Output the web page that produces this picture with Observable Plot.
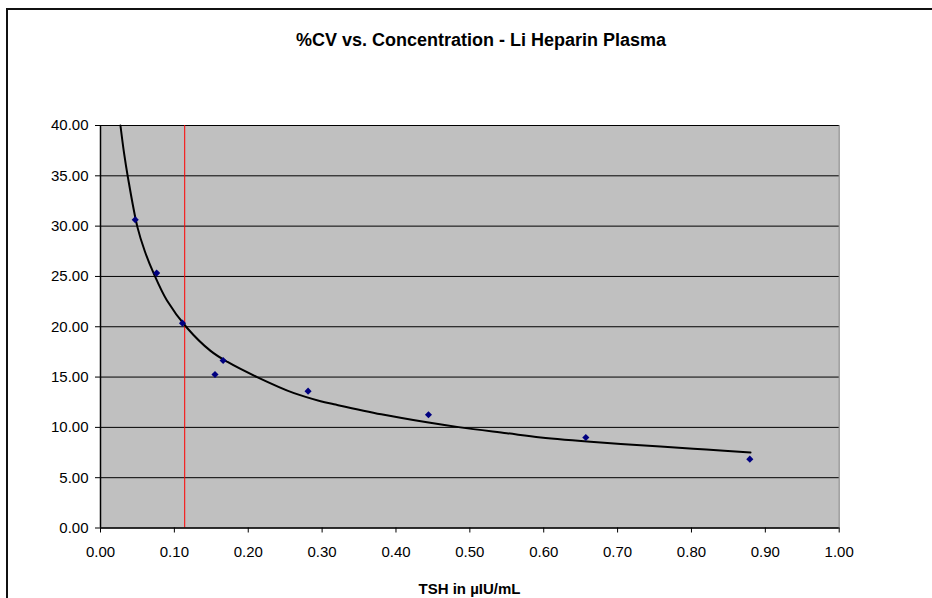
<!DOCTYPE html>
<html>
<head>
<meta charset="utf-8">
<script src="https://cdn.jsdelivr.net/npm/d3@7"></script>
<script src="https://cdn.jsdelivr.net/npm/@observablehq/plot@0.6"></script>
<style>
  html, body { margin: 0; padding: 0; background: #fff; width: 932px; height: 598px; overflow: hidden; position: relative; }
  body { font-family: Arial, "Liberation Sans", sans-serif; }
  #frame { position: absolute; left: 6px; top: 8px; width: 1000px; height: 700px; border-left: 2px solid #111; border-top: 2px solid #111; }
  #title { position: absolute; left: 0; width: 962px; top: 29px; text-align: center; font-weight: bold; font-size: 18px; line-height: 22px; color: #000; }
  #chart { position: absolute; left: 0; top: 80px; }
  #xlabel { position: absolute; left: 100px; width: 739px; top: 580px; text-align: center; font-weight: bold; font-size: 15px; line-height: 18px; color: #000; }
</style>
</head>
<body>
<div id="frame"></div>
<div id="title">%CV vs. Concentration - Li Heparin Plasma</div>
<div id="chart"></div>
<div id="xlabel">TSH in µIU/mL</div>
<script>
// Measured points (TSH concentration, %CV)
const pointX = [0.047, 0.076, 0.111, 0.155, 0.166, 0.281, 0.444, 0.657, 0.879];
const pointY = [30.64, 25.33, 20.36, 15.26, 16.65, 13.60, 11.25, 9.00, 6.84];

// Trend curve
const curveX = [0.027, 0.032, 0.037, 0.050, 0.060, 0.072, 0.090, 0.117, 0.149, 0.172, 0.212, 0.262, 0.298, 0.316, 0.380, 0.442, 0.487, 0.550, 0.596, 0.677, 0.758, 0.820, 0.880];
const curveY = [40.0, 37.2, 34.9, 29.9, 27.5, 25.3, 22.6, 19.9, 17.6, 16.5, 15.0, 13.4, 12.6, 12.3, 11.3, 10.5, 10.0, 9.42, 9.0, 8.5, 8.1, 7.8, 7.5];

// Reference line
const refX = [0.114];

// Tick values
const xTicks = [0, 0.1, 0.2, 0.3, 0.4, 0.5, 0.6, 0.7, 0.8, 0.9, 1.0];
const yTicks = [0, 5, 10, 15, 20, 25, 30, 35, 40];

const points = pointX.map((x, i) => ({x, y: pointY[i]}));
const curve = curveX.map((x, i) => ({x, y: curveY[i]}));

const chart = Plot.plot({
  width: 932,
  height: 500,
  marginLeft: 100,
  marginRight: 93.3,
  marginTop: 45,
  marginBottom: 52.5,
  style: {
    fontFamily: 'Arial, "Liberation Sans", sans-serif',
    fontSize: "15px",
    color: "#000",
    background: "transparent",
    overflow: "visible"
  },
  x: {domain: [0, 1]},
  y: {domain: [0, 40]},
  marks: [
    Plot.frame({fill: "#C0C0C0", stroke: "#808080"}),
    Plot.ruleY(yTicks.filter(d => d > 0), {stroke: "#000", strokeWidth: 1}),
    Plot.ruleX(refX, {stroke: "#FF0000", strokeWidth: 1}),
    Plot.line(curve, {x: "x", y: "y", stroke: "#000", strokeWidth: 2, curve: "catmull-rom"}),
    Plot.dot(points, {x: "x", y: "y", symbol: "diamond2", r: 3.2, fill: "#000080", stroke: "none"}),
    Plot.ruleX([0], {stroke: "#000", strokeWidth: 1.5}),
    Plot.ruleY([0], {stroke: "#000", strokeWidth: 1.5}),
    Plot.axisX({ticks: xTicks, tickFormat: d3.format(".2f"), tickSize: 5, tickPadding: 13, label: null, stroke: "#000"}),
    Plot.axisY({ticks: yTicks, tickFormat: d3.format(".2f"), tickSize: 5, tickPadding: 7, label: null, stroke: "#000"})
  ]
});
document.getElementById("chart").appendChild(chart);
</script>
</body>
</html>
